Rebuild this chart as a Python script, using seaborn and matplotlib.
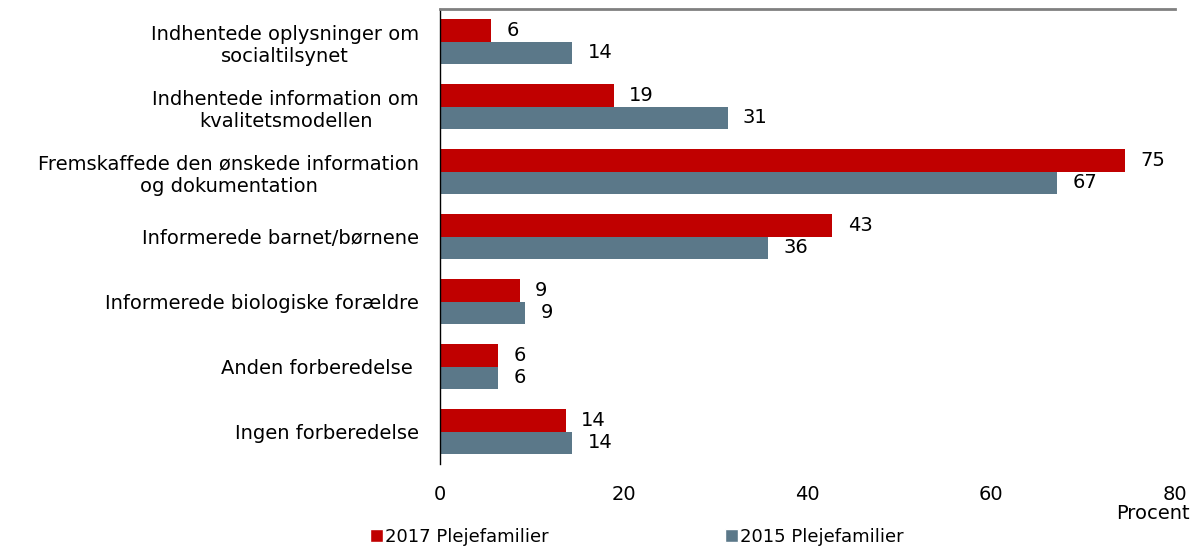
import pandas as pd
import matplotlib
matplotlib.use('Agg')
import matplotlib.pyplot as plt
import seaborn as sns
from matplotlib.patches import Patch

categories = ['Indhentede oplysninger om\nsocialtilsynet',
              'Indhentede information om\nkvalitetsmodellen',
              'Fremskaffede den ønskede information\nog dokumentation',
              'Informerede barnet/børnene',
              'Informerede biologiske forældre',
              'Anden forberedelse ',
              'Ingen forberedelse']
series = ['2017 Plejefamilier', '2015 Plejefamilier']
values_2017 = [5.6, 18.9, 74.6, 42.7, 8.7, 6.3, 13.7]
values_2015 = [14.4, 31.3, 67.2, 35.7, 9.3, 6.3, 14.4]
colors = ['#C00000', '#5B7889']

df = pd.DataFrame({
    'category': categories * 2,
    'value': values_2017 + values_2015,
    'series': [series[0]] * len(categories) + [series[1]] * len(categories),
})

sns.set_style('white')
plt.rcParams['font.family'] = ['DejaVu Sans']
plt.rcParams['text.color'] = 'black'
plt.rcParams['xtick.color'] = 'black'
plt.rcParams['ytick.color'] = 'black'

fig = plt.figure(figsize=(11.99, 5.46), dpi=100)
ax = fig.add_axes([0.367, 0.150, 0.613, 0.8335])

sns.barplot(data=df, y='category', x='value', hue='series', orient='h',
            palette=colors, width=0.68, saturation=1, legend=False,
            linewidth=0, ax=ax)

# value labels next to each bar
for cont in ax.containers:
    ax.bar_label(cont, fmt='%.0f', padding=11, fontsize=14, color='black')

ax.set_xlim(0, 80)
ax.set_ylim(6.5, -0.5)
ax.set_xticks([0, 20, 40, 60, 80])
ax.set_xlabel('')
ax.set_ylabel('')
ax.tick_params(axis='x', length=0, pad=15, labelsize=14)
ax.tick_params(axis='y', length=0, pad=15, labelsize=14)
for lab in ax.get_yticklabels():
    lab.set_multialignment('center')

for s in ['right', 'bottom']:
    ax.spines[s].set_visible(False)
ax.spines['left'].set_color('black')
ax.spines['left'].set_linewidth(1)
ax.spines['top'].set_color('#808080')
ax.spines['top'].set_linewidth(2)

fig.text(0.992, 0.060, 'Procent', ha='right', va='center', fontsize=14)

handles = [Patch(facecolor=c, label=s) for c, s in zip(colors, series)]
fig.legend(handles=handles, loc='center', bbox_to_anchor=(0.531, 0.017), ncol=2,
           frameon=False, fontsize=13, handlelength=0.7, handleheight=0.7,
           handletextpad=0.1, columnspacing=9.8, borderpad=0)

fig.savefig('out.png', dpi=100)
